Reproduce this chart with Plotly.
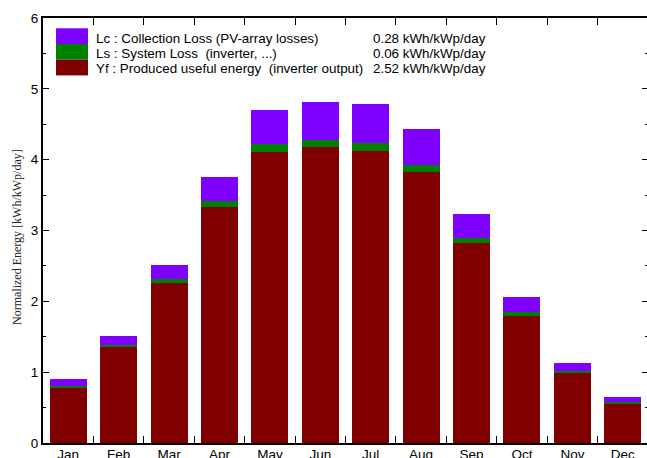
import plotly.graph_objects as go

months = ["Jan", "Feb", "Mar", "Apr", "May", "Jun", "Jul", "Aug", "Sep", "Oct", "Nov", "Dec"]
yf = [0.78, 1.35, 2.26, 3.33, 4.11, 4.18, 4.12, 3.83, 2.82, 1.80, 0.99, 0.56]
ls = [0.03, 0.03, 0.05, 0.08, 0.11, 0.10, 0.11, 0.09, 0.08, 0.05, 0.03, 0.025]
lc = [0.09, 0.13, 0.20, 0.34, 0.48, 0.53, 0.56, 0.51, 0.34, 0.21, 0.11, 0.065]

legend_labels = [
    "Lc : Collection Loss (PV-array losses)",
    "Ls : System Loss\u00a0\u00a0(inverter, ...)",
    "Yf : Produced useful energy\u00a0\u00a0(inverter output)",
]
legend_values = ["0.28 kWh/kWp/day", "0.06 kWh/kWp/day", "2.52 kWh/kWp/day"]

c_yf = "#800000"
c_ls = "#008000"
c_lc = "#8000FF"
colors = [c_lc, c_ls, c_yf]

fig = go.Figure()
for vals, col in [(yf, c_yf), (ls, c_ls), (lc, c_lc)]:
    fig.add_trace(go.Bar(x=months, y=vals, marker=dict(color=col, line=dict(width=0)),
                         showlegend=False))

# plot area at page x 43..648, y 18..443 (body margin removed below)
W, H = 648, 458
L, R, T, B = 43, 0, 18, 15
pw = W - L - R
ph = H - T - B

def px_x(p):
    return (p - L) / pw

def px_y(p):
    return 1 - (p - T) / ph

FONT = "Liberation Sans, Arial"
shapes = []
annotations = []
row_tops = [28.3, 44.0, 59.7]
row_h = 15.7
line_centers = [38.3, 53.3, 68.3]
for i, (lab, val, col) in enumerate(zip(legend_labels, legend_values, colors)):
    y0 = row_tops[i]
    shapes.append(dict(type="rect", xref="paper", yref="paper",
                       x0=px_x(56), x1=px_x(88), y0=px_y(y0 + row_h), y1=px_y(y0),
                       fillcolor=col, line=dict(width=0)))
    yc = px_y(line_centers[i])
    annotations.append(dict(text=lab, xref="paper", yref="paper", x=px_x(94), y=yc,
                            xanchor="left", yanchor="middle", showarrow=False,
                            font=dict(family=FONT, size=13.4, color="black")))
    annotations.append(dict(text=val, xref="paper", yref="paper", x=px_x(371), y=yc,
                            xanchor="left", yanchor="middle", showarrow=False,
                            font=dict(family=FONT, size=13.4, color="black")))

annotations.append(dict(text="Normalized Energy [kWh/kWp/day]", xref="paper", yref="paper",
                        x=px_x(17), y=px_y(237), textangle=-90, xanchor="center", yanchor="middle",
                        showarrow=False,
                        font=dict(family="Liberation Serif, Times New Roman", size=12, color="#222")))

fig.update_layout(
    width=W, height=H,
    margin=dict(l=L, r=R, t=T, b=B, pad=0, autoexpand=False),
    paper_bgcolor="white", plot_bgcolor="white",
    barmode="stack", bargap=0.265,
    shapes=shapes, annotations=annotations,
    font=dict(family=FONT, size=13, color="black"),
)
fig.update_xaxes(
    type="category", showline=True, linecolor="black", linewidth=2, mirror="ticks",
    ticks="inside", tickson="boundaries", ticklen=7, tickwidth=1, tickcolor="black",
    showgrid=False, zeroline=False, tickfont=dict(size=13.5), ticklabelstandoff=-2,
    automargin=False,
)
fig.update_yaxes(
    range=[0, 6], dtick=1, showline=True, linecolor="black", linewidth=2, mirror="ticks",
    ticks="inside", ticklen=6, tickwidth=1, tickcolor="black",
    minor=dict(dtick=0.5, ticks="inside", ticklen=3, tickcolor="black", showgrid=False),
    showgrid=False, zeroline=False, tickfont=dict(size=13.5), automargin=False,
)

fig.write_html(
    "out.html",
    config={"displayModeBar": False},
    post_script="document.body.style.margin='0';document.body.style.overflow='hidden';",
)
